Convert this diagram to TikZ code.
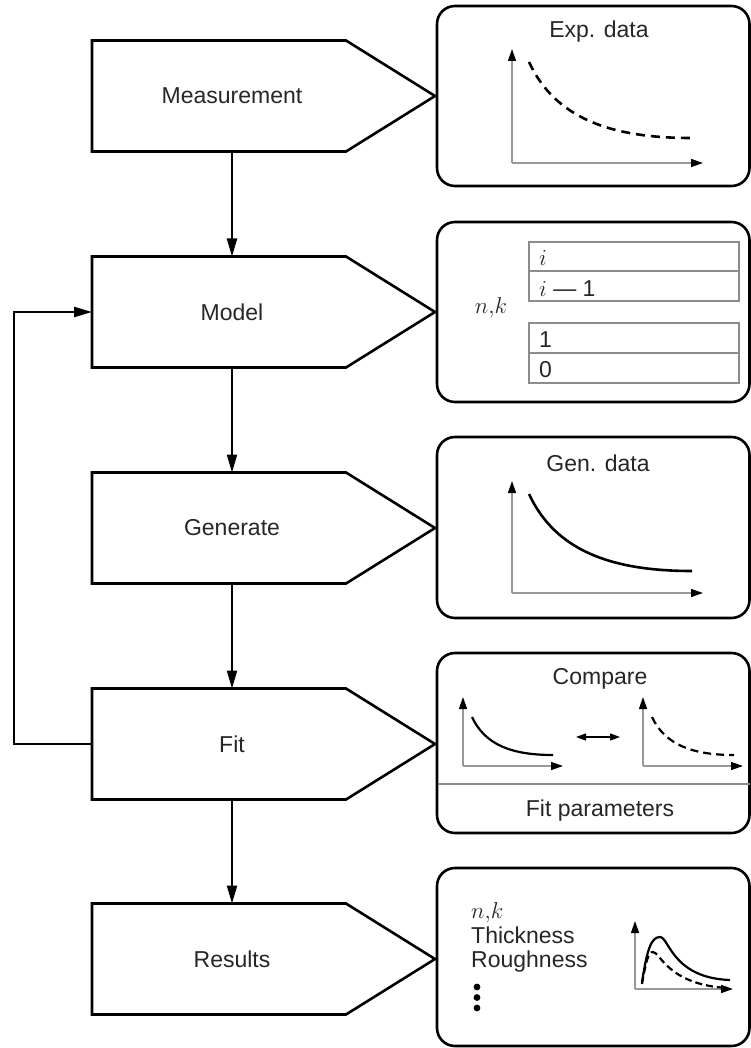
\RequirePackage{fix-cm}
\documentclass[tikz,border=0pt]{standalone}
\usepackage{fontspec}
\setmainfont{Liberation Sans}
\usetikzlibrary{arrows.meta}
\tikzset{
  pent/.style={draw=black, line width=2.6pt, line join=miter},
  panel/.style={draw=black, line width=2.6pt, rounded corners=18pt, inner sep=0pt, minimum width=312.5pt},
  conn/.style={line width=2.2pt, line join=miter, -{Triangle[length=18pt,width=10pt]}},
  axis/.style={draw=black!40, line width=1.4pt, -{Triangle[length=12pt,width=8pt,color=black]}},
  curve/.style={line width=2.6pt},
  dcurve/.style={line width=2.6pt, dash pattern=on 9pt off 6pt},
  smallcurve/.style={line width=2.2pt},
  lbl/.style={font=\fontsize{23}{27}\selectfont, text=black!85, inner sep=0pt},
  layer/.style={draw=black!45, line width=1.2pt},
  dbl/.style={line width=1.2pt, {Triangle[length=10pt,width=7pt]}-{Triangle[length=10pt,width=7pt]}},
}
\newcommand\pentbox[3]{%
  \draw[pent] (92,#2-55.5) -- (346,#2-55.5) -- (435,#2) -- (346,#2+55.5) -- (92,#2+55.5) -- cycle;
  \node[lbl] (#1) at (232,#2) {#3};
  \coordinate (#1-top) at (232,#2-55.5);
  \coordinate (#1-bot) at (232,#2+55.5);
  \coordinate (#1-left) at (92,#2);
  \coordinate (#1-tip) at (435,#2);
}
\begin{document}
\begin{tikzpicture}[x=1pt,y=-1pt]
\useasboundingbox (0,0) rectangle (751,1048);

% left process boxes
\pentbox{meas}{96}{Measurement}
\pentbox{model}{312}{Model}
\pentbox{gen}{528}{Generate}
\pentbox{fit}{744}{Fit}
\pentbox{res}{959}{Results}

% connectors
\draw[conn] (meas-bot) -- (model-top);
\draw[conn] (model-bot) -- (gen-top);
\draw[conn] (gen-bot) -- (fit-top);
\draw[conn] (fit-bot) -- (res-top);
\coordinate (fb) at (14,744);
\draw[conn] (fit-left) -- (fb) |- (model-left);

% right panels
\node[panel, minimum height=180pt] (exppanel) at (593.25,96) {};
\node[panel, minimum height=180pt] (modpanel) at (593.25,312) {};
\node[panel, minimum height=181pt] (genpanel) at (593.25,527.5) {};
\node[panel, minimum height=180pt] (fitpanel) at (593.25,743) {};
\node[panel, minimum height=178pt] (respanel) at (593.25,957) {};

% Exp. data
\node[lbl] (exptitle) at (599,32) {Exp. data};
\coordinate (eo) at (512,163);
\draw[axis] (eo) -- (512,49);
\draw[axis] (eo) -- (703,163);
\draw[dcurve] (529,62) .. controls (555,118) and (610,138) .. (691,138);

% Model
\node[lbl] (nk) at (491,308) {$n{,}k$};
\draw[layer] (529,242) rectangle (739,301);
\draw[layer] (529,271) -- (739,271);
\draw[layer] (529,323) rectangle (739,383);
\draw[layer] (529,353) -- (739,353);
\node[lbl, anchor=base west] (li) at (539,266) {$i$};
\node[lbl, anchor=base west] (lim) at (539,296) {$i$ — 1};
\node[lbl, anchor=base west] (l1) at (539,347) {1};
\node[lbl, anchor=base west] (l0) at (539,377) {0};

% Gen. data
\node[lbl] (gentitle) at (598,463) {Gen. data};
\coordinate (go) at (512,593);
\draw[axis] (go) -- (512,481);
\draw[axis] (go) -- (703,593);
\draw[curve] (529,494) .. controls (555,550) and (610,571) .. (692,571);

% Compare / Fit parameters
\node[lbl] (cmp) at (600,679) {Compare};
\coordinate (co1) at (463,766);
\draw[axis] (co1) -- (463,697);
\draw[axis] (co1) -- (563,766);
\draw[smallcurve] (472,717) .. controls (485,745) and (512,755) .. (553,755);
\coordinate (co2) at (643,766);
\draw[axis] (co2) -- (643,697);
\draw[axis] (co2) -- (743,766);
\draw[smallcurve, dash pattern=on 8pt off 5pt] (652,717) .. controls (665,745) and (693,755) .. (734,755);
\coordinate (da) at (576,737);
\coordinate (db) at (620,737);
\draw[dbl] (da) -- (db);
\draw[layer] (438,784) -- (749.5,784);
\node[lbl] (fitpar) at (600,811) {Fit parameters};

% Results
\node[lbl, anchor=base west] (rnk) at (471,918) {$n{,}k$};
\node[lbl, anchor=base west] (rth) at (471,943) {Thickness};
\node[lbl, anchor=base west] (rro) at (471,967) {Roughness};
\fill (477,987) circle (3.4);
\fill (477,997.5) circle (3.4);
\fill (477,1008) circle (3.4);
\coordinate (ro) at (635,989);
\draw[axis] (ro) -- (635,921);
\draw[axis] (ro) -- (733,989);
\draw[smallcurve] (642,982) .. controls (647,950) and (651,937) .. (660,937) .. controls (669,937) and (672,978) .. (730,980);
\draw[smallcurve, dash pattern=on 7pt off 4pt] (642,984) .. controls (646,962) and (648,952) .. (653,952) .. controls (660,952) and (668,985) .. (728,988);
\end{tikzpicture}
\end{document}
